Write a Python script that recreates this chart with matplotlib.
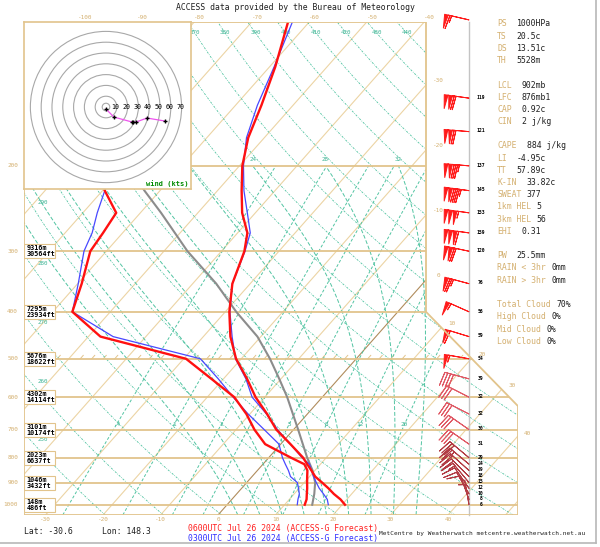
"""
Emagramme oblique (skew-T) ACCESS-G, Lat -30.6 Lon 148.3
"""
import numpy as np
import matplotlib
matplotlib.use("Agg")
import matplotlib.pyplot as plt
from matplotlib.patches import Polygon, Circle, Rectangle

# =============================================================================
# DONNEES
# =============================================================================

# Profil 0600UTC (rouge) et 0300UTC (bleu), hPa / degC
niveaux = [1000, 975, 950, 925, 900, 875, 850, 825, 800, 750, 700, 650, 600, 550,
           500, 450, 400, 350, 300, 275, 250, 225, 200, 175, 150, 125, 100]
temp_06 = [20.5, 18.9, 16.9, 15.1, 13.1, 11.0, 9.4, 7.7, 6.0, 1.7, -3.0, -7.0, -11.6, -15.9,
           -20.9, -25.3, -29.3, -33.1, -36.0, -38.3, -42.3, -45.8, -49.5, -52.8, -55.5, -59.0, -63.9]
temp_03 = [17.6, 16.6, 15.1, 13.5, 12.1, 10.7, 9.4, 8.1, 5.8, 1.7, -2.8, -7.1, -12.2, -16.1,
           -21.0, -25.0, -29.2, -33.1, -35.9, -37.8, -41.4, -45.4, -49.3, -53.1, -56.2, -59.2, -63.1]

niveaux_td = [1000, 975, 950, 925, 900, 875, 850, 825, 800, 750, 700, 650, 600, 550,
              500, 450, 400, 350, 300, 275, 250, 225]
rosee_06 = [13.5, 13.0, 12.2, 11.4, 10.5, 9.6, 8.7, 7.2, 3.9, -2.7, -6.8, -10.6, -15.3, -22.1,
            -29.6, -47.9, -56.6, -59.3, -62.8, -63.4, -64.2, -69.6]
rosee_03 = [12.2, 11.5, 10.9, 9.9, 8.8, 6.7, 5.4, 3.9, 2.4, -0.3, -5.1, -10.3, -15.5, -20.9,
            -27.1, -45.7, -56.6, -59.9, -63.9, -65.3, -67.5, -69.6]

# Trajectoire de la particule (gris)
niveaux_part = [1000, 950, 900, 850, 800, 700, 600, 550, 500, 450, 400, 350, 300, 250, 225, 200]
temp_part = [14.8, 13.5, 11.9, 9.6, 6.7, 0.8, -6.1, -10.3, -15.0, -20.6, -28.1, -35.9, -45.9,
             -56.4, -62.7, -69.3]

# Vents (hPa, noeuds, direction d'origine en degres)
vent_p = [100, 145, 170, 200, 225, 250, 275, 300, 350, 400, 450, 500, 550, 600, 650, 700,
          750, 800, 825, 850, 875, 900, 925, 950, 975, 1000]
vent_kt = [66, 119, 121, 137, 145, 153, 159, 120, 76, 56, 59, 54, 39, 32, 32, 30,
           31, 29, 24, 19, 18, 15, 12, 10, 8, 6]
vent_dir = [283, 278, 275, 275, 278, 278, 278, 282, 285, 294, 287, 280, 285, 297, 297, 305,
            305, 310, 310, 312, 315, 320, 325, 330, 340, 350]

# Hodographe (noeuds)
hodo_u = [0.0, 7.4, 24.1, 25.0, 27.8, 38.0, 54.6]
hodo_v = [-1.9, -9.3, -13.9, -13.9, -13.9, -10.2, -13.0]
hodo_cercles = [10, 20, 30, 40, 50, 60, 70]

# Altitudes des niveaux standards
niveaux_alt = [300, 400, 500, 600, 700, 800, 900, 1000]
alt_m = [9316, 7295, 5676, 4302, 3101, 2023, 1046, 148]
alt_ft = [30564, 23934, 18622, 14114, 10174, 6637, 3432, 486]

# Lignes du fond
isothermes = list(range(-140, 60, 10))
thetas = list(range(250, 460, 10))
thetas_w = [0, 4, 8, 12, 16, 20, 24, 28, 32]
rapports = [0.4, 1, 2, 3, 5, 8, 12, 20]
rapports_txt = [".4", "1", "2", "3", "5", "8", "12", "20"]
niveaux_iso = [100, 200, 300, 400, 500, 600, 700, 800, 900, 1000]

# Panneau d'indices
panneau_noms = ["PS", "TS", "DS", "TH", None, "LCL", "LFC", "CAP", "CIN", None,
                "CAPE", "LI", "TT", "K-IN", "SWEAT", "1km HEL", "3km HEL", "EHI", None,
                "PW", "RAIN < 3hr", "RAIN > 3hr", None,
                "Total Cloud", "High Cloud", "Mid Cloud", "Low Cloud"]
panneau_vals = ["1000HPa", "20.5c", "13.51c", "5528m", None, "902mb", "876mb1", "0.92c", "2 j/kg", None,
                "884 j/kg", "-4.95c", "57.89c", "33.82c", "377", "5", "56", "0.31", None,
                "25.5mm", "0mm", "0mm", None,
                "70%", "0%", "0%", "0%"]

# =============================================================================
# GEOMETRIE
# =============================================================================

P_BAS, P_HAUT = 1050, 101
INCL = 32.4                      # inclinaison des isothermes
X_GAUCHE, X_DROITE, X_COIN = -33.74, 52.17, 36.17
P_COIN_HAUT, P_COIN_BAS = 400, 626
X_VENT = 43.65
DECALAGE_TW = 1.0                # calage des adiabatiques humides sur l'original

TAN = "#e2c48c"
TAN_CLAIR = "#ecd4a4"
TAN_TXT = "#d4b070"
VERT = "#52c4a2"
VERT_TXT = "#3cb494"

plt.rcParams["font.family"] = ["DejaVu Sans Mono"]


def incline(t, p):
    return np.asarray(t, dtype=float) + INCL * np.log(P_BAS / np.asarray(p, dtype=float))


def rosee_saturante(w, p):
    e = w * p / (622.0 + w)
    a = np.log(e / 6.112)
    return 243.5 * a / (17.67 - a)


def pente_humide(t, p):
    es = 6.112 * np.exp(17.67 * (t - 273.15) / (t - 29.65))
    rs = 0.622 * es / (p - es)
    return (287.04 * t + 2.501e6 * rs) / (p * (1005.7 + 2.501e6 ** 2 * rs * 0.622 / (287.04 * t * t)))


def adiabatique_humide(t0, p):
    t = [t0 + 273.15]
    for i in range(1, len(p)):
        dp = p[i] - p[i - 1]
        k1 = pente_humide(t[-1], p[i - 1])
        k2 = pente_humide(t[-1] + 0.5 * dp * k1, p[i - 1] + 0.5 * dp)
        k3 = pente_humide(t[-1] + 0.5 * dp * k2, p[i - 1] + 0.5 * dp)
        k4 = pente_humide(t[-1] + dp * k3, p[i])
        t.append(t[-1] + dp * (k1 + 2 * k2 + 2 * k3 + k4) / 6)
    return np.array(t) - 273.15


fig = plt.figure(figsize=(6, 5.47), dpi=100)
ax = fig.add_axes([24 / 600, 1 - 515 / 547, 494 / 600, 493 / 547])
ax.set_yscale("log")
ax.set_ylim(P_BAS, P_HAUT)
ax.set_xlim(X_GAUCHE, X_DROITE)
ax.axis("off")

cadre = Polygon([(X_GAUCHE, P_HAUT), (X_COIN, P_HAUT), (X_COIN, P_COIN_HAUT),
                 (X_DROITE, P_COIN_BAS), (X_DROITE, P_BAS), (X_GAUCHE, P_BAS)],
                closed=True, fill=False, ec=TAN, lw=1.3, zorder=5)
ax.add_patch(cadre)


def trace(x, p, **kw):
    ligne, = ax.plot(x, p, **kw)
    ligne.set_clip_path(cadre)
    return ligne


pp = np.geomspace(P_BAS, P_HAUT, 300)

# Isobares
for p in niveaux_iso:
    trace([X_GAUCHE, X_DROITE], [p, p], color=TAN, lw=1.3, zorder=2)
    if p >= 200:
        ax.text(-0.012, p, str(p), transform=ax.get_yaxis_transform(), ha="right",
                va="center", fontsize=4.3, color=TAN_TXT)

# Isothermes
for t in isothermes:
    trace(incline([t, t], [P_BAS, P_HAUT]), [P_BAS, P_HAUT],
          color="#b08c5c" if t == 0 else TAN_CLAIR, lw=0.8, zorder=1)

# petites graduations sur 500 hPa
for t in np.arange(-60, 40, 2):
    if t % 10:
        trace(incline([t, t], [500, 492]), [500, 492], color=TAN, lw=0.7, zorder=1)

# Etiquettes des isothermes
for t in range(-30, 50, 10):
    ax.annotate(str(t), (t, P_BAS), xytext=(0, -1.2), textcoords="offset points",
                ha="center", va="top", fontsize=4.3, color=TAN_TXT)
for t in range(-100, -30, 10):
    ax.annotate(str(t), (incline(t, P_HAUT), P_HAUT), xytext=(4, 1.5), textcoords="offset points",
                ha="center", va="bottom", fontsize=4.3, color=TAN_TXT)
for t in range(-30, 10, 10):
    p = P_BAS / np.exp((X_COIN - t) / INCL)
    ax.annotate(str(t), (X_COIN, p), xytext=(9, 3), textcoords="offset points",
                ha="center", va="center", fontsize=4.3, color=TAN_TXT)
u1, u2 = np.log(P_BAS / P_COIN_HAUT), np.log(P_BAS / P_COIN_BAS)
pente = (X_DROITE - X_COIN) / (u1 - u2)
for t in (10, 20, 30):
    u = (X_COIN + u1 * pente - t) / (INCL + pente)
    ax.annotate(str(t), (t + INCL * u, P_BAS / np.exp(u)), xytext=(7.5, 3),
                textcoords="offset points", ha="center", va="center", fontsize=4.3, color=TAN_TXT)
p40 = P_BAS / np.exp((X_DROITE - 40) / INCL)
ax.annotate("40", (X_DROITE, p40), xytext=(7, 1.5), textcoords="offset points",
            ha="center", va="center", fontsize=4.3, color=TAN_TXT)

# Adiabatiques seches
x_etiq = (43 - 24) / 5.75 + X_GAUCHE
x_repere = (30 - 24) / 5.75 + X_GAUCHE
for th in thetas:
    t = th * (pp / 1000) ** 0.286 - 273.15
    xs = incline(t, pp)
    trace(xs, pp, color=VERT, lw=0.6, ls=(0, (2.5, 1.5, 0.8, 1.5)), zorder=1)
    pc = np.interp(x_repere, xs[::-1], pp[::-1])
    if pc >= 106:
        ax.text(x_etiq, pc, str(th), ha="center", va="center", fontsize=4.2, color=VERT_TXT)
    else:
        xt = incline(th * (0.1064) ** 0.286 - 273.15, 106.4)
        if xt < X_COIN - 1:
            ax.text(xt, 106.4, str(th), ha="center", va="center", fontsize=4.2, color=VERT_TXT)

# Adiabatiques humides
ph_haut = np.geomspace(1000, 200, 160)
ph_bas = np.geomspace(1000, P_BAS, 6)
for tw in thetas_w:
    t_haut = adiabatique_humide(tw + DECALAGE_TW, ph_haut)
    t_bas = adiabatique_humide(tw + DECALAGE_TW, ph_bas)
    p_tout = np.concatenate([ph_bas[::-1], ph_haut[1:]])
    t_tout = np.concatenate([t_bas[::-1], t_haut[1:]])
    trace(incline(t_tout, p_tout), p_tout, color=VERT, lw=0.7, ls=(0, (4, 2)), zorder=1)
    if tw >= 24:
        ax.annotate(str(tw), (incline(t_haut[-1], 200), 200), xytext=(0, 3), textcoords="offset points",
                    ha="center", va="bottom", fontsize=4.2, color=VERT_TXT)

# Rapports de melange
pm = np.geomspace(P_BAS, 200, 100)
for w, txt in zip(rapports, rapports_txt):
    trace(incline(rosee_saturante(w, pm), pm), pm, color=VERT, lw=0.7, ls=(0, (3, 2)), zorder=1)
    ax.text(incline(rosee_saturante(w, 682), 682), 682, txt, ha="center", va="center",
            fontsize=4.3, color=VERT_TXT, zorder=2)

# Profils
trace(incline(temp_part, niveaux_part), niveaux_part, color="#8c8c8c", lw=1.5, zorder=3)
trace(incline(temp_03, niveaux), niveaux, color="#4848ff", lw=0.9, zorder=3)
trace(incline(rosee_03, niveaux_td), niveaux_td, color="#4848ff", lw=0.9, zorder=3)
trace(incline(temp_06, niveaux), niveaux, color="#ff1010", lw=1.7, zorder=4)
trace(incline(rosee_06, niveaux_td), niveaux_td, color="#ff1010", lw=1.7, zorder=4)

# Cases d'altitude
k = np.log(P_BAS / P_HAUT) / 493
for p, m, ft in zip(niveaux_alt, alt_m, alt_ft):
    ax.add_patch(Rectangle((0.001, p * np.exp(-7 * k)), 31 / 494, p * np.exp(7 * k) - p * np.exp(-7 * k),
                           transform=ax.get_yaxis_transform(), fc="white", ec=TAN, lw=0.8, zorder=6))
    ax.text(0.005, p, f"{m}m\n{ft}ft", transform=ax.get_yaxis_transform(), ha="left", va="center",
            fontsize=4.9, fontweight="bold", linespacing=1.0, color="black", zorder=7)

# Vents
ax.plot([X_VENT, X_VENT], [P_BAS, P_HAUT], color="#c4c4c4", lw=1.0, clip_on=False, zorder=2)
vp = np.array(vent_p, dtype=float)
vk = np.array(vent_kt, dtype=float)
vd = np.radians(vent_dir)
uu, vv = -vk * np.sin(vd), -vk * np.cos(vd)
groupes = [(vp <= 500, "#ff1a1a", 0.07), ((vp > 500) & (vp <= 750), "#e05a66", 0.12),
           (vp > 750, "#b23c44", 0.12)]
for masque, coul, esp in groupes:
    ax.barbs(np.full(masque.sum(), X_VENT), vp[masque], uu[masque], vv[masque], length=6.0,
             sizes=dict(spacing=esp, height=0.55, width=0.15, emptybarb=0.1),
             barbcolor=coul, flagcolor=coul, linewidth=0.7, flip_barb=True, clip_on=False, zorder=4)
for p, s in zip(vent_p, vent_kt):
    ax.annotate(str(s), (X_VENT, p), xytext=(8.5, 0.5), textcoords="offset points", ha="center",
                va="center", fontsize=3.4, fontweight="bold", color="black")

# =============================================================================
# HODOGRAPHE
# =============================================================================
hx = fig.add_axes([24 / 600, 1 - 189 / 547, 167 / 600, 167 / 547])
hx.set_facecolor("white")
hx.set_xlim(-75.9, 78.7)
hx.set_ylim(-75.9, 78.7)
hx.set_xticks([])
hx.set_yticks([])
for sp in hx.spines.values():
    sp.set_color(TAN)
    sp.set_linewidth(1.2)
hx.add_patch(Circle((0, 0), 3.5, fill=False, ec="#a8a8a8", lw=0.8))
for r in hodo_cercles:
    hx.add_patch(Circle((0, 0), r, fill=False, ec="#a8a8a8", lw=0.8))
    hx.text(r - 1, 0, str(r), ha="center", va="center", fontsize=4.8, color="black")
hx.plot(hodo_u, hodo_v, color="#ee55ee", lw=0.9)
hx.plot(hodo_u, hodo_v, ls="none", marker="+", ms=3.5, mew=1.0, color="black")
hx.text(0.985, 0.012, "wind (kts)", transform=hx.transAxes, ha="right", va="bottom",
        fontsize=5.0, fontweight="bold", color="#008a00")

# =============================================================================
# TEXTES
# =============================================================================
fig.text(295 / 600, 1 - 7 / 547, "ACCESS data provided by the Bureau of Meteorology",
         ha="center", va="center", fontsize=5.9, color="#202020")

cw = 0.602 * 5.9 * 100 / 72
for i, (nom, val) in enumerate(zip(panneau_noms, panneau_vals)):
    if nom is None:
        continue
    y = 24 + 12.2 * i
    fig.text(497 / 600, 1 - y / 547, nom, ha="left", va="center", fontsize=5.9, color=TAN_TXT)
    ecart = 1 if len(nom) >= 5 else 2
    fig.text((497 + (len(nom) + ecart) * cw) / 600, 1 - y / 547, val, ha="left", va="center",
             fontsize=5.9, color="#202020")

fig.text(24 / 600, 1 - 531 / 547, "Lat: -30.6", ha="left", va="center", fontsize=5.9, color="#202020")
fig.text(102 / 600, 1 - 531 / 547, "Lon: 148.3", ha="left", va="center", fontsize=5.9, color="#202020")
fig.text(188 / 600, 1 - 528 / 547, "0600UTC Jul 26 2024 (ACCESS-G Forecast)", ha="left", va="center",
         fontsize=5.9, color="#ff2020")
fig.text(188 / 600, 1 - 538.5 / 547, "0300UTC Jul 26 2024 (ACCESS-G Forecast)", ha="left", va="center",
         fontsize=5.9, color="#3030ff")
fig.text(379 / 600, 1 - 533 / 547, "MetCentre by Weatherwatch metcentre.weatherwatch.net.au",
         ha="left", va="center", fontsize=4.4, color="#202020")

fig.add_artist(plt.Line2D([596 / 600, 596 / 600], [1 - 543 / 547, 1], transform=fig.transFigure,
                          color="#b8b8b8", lw=1.2))
fig.add_artist(plt.Line2D([0, 596 / 600], [1 - 543 / 547, 1 - 543 / 547], transform=fig.transFigure,
                          color="#b8b8b8", lw=1.2))

fig.savefig("out.png", dpi=100, facecolor="white")
